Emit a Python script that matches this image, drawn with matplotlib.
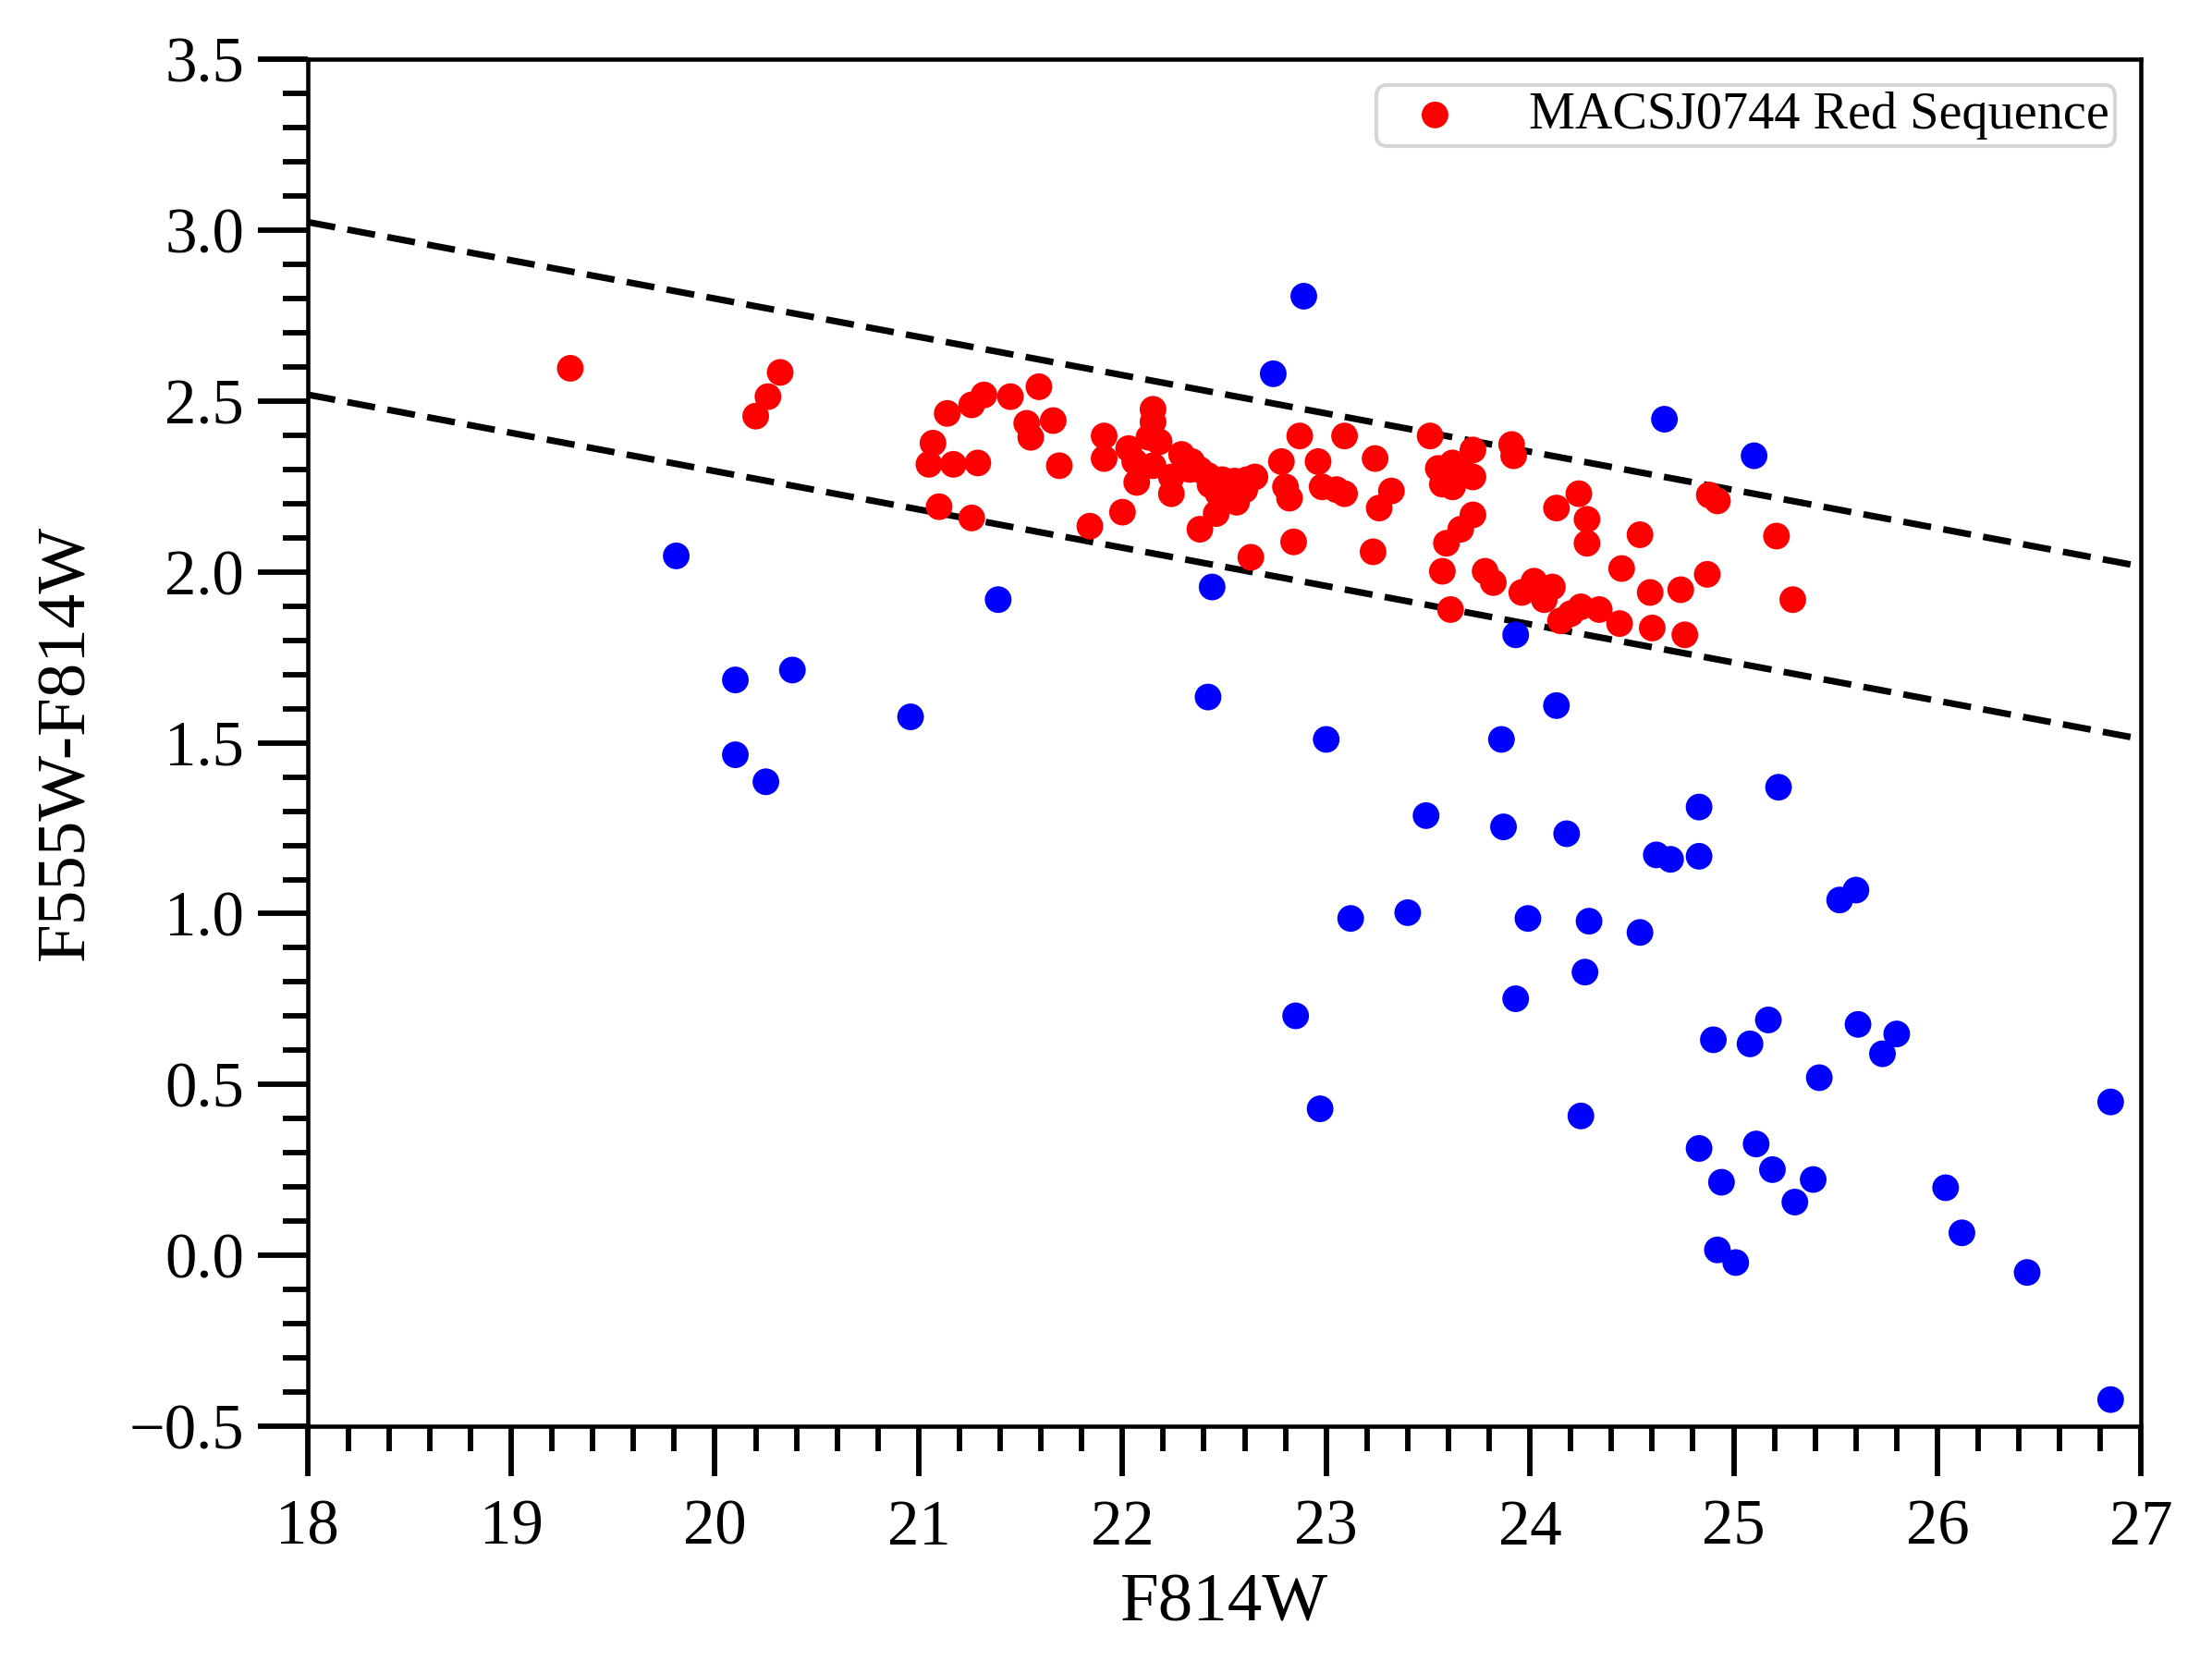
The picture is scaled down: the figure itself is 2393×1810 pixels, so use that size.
import numpy as np
import matplotlib
matplotlib.use("Agg")
import matplotlib.pyplot as plt
from matplotlib.ticker import MultipleLocator

plt.rcParams['font.family'] = ['Liberation Serif', 'DejaVu Serif']
plt.rcParams['mathtext.fontset'] = 'stix'

# red sequence members (F814W, F555W-F814W)
red_mag = [19.29, 20.20, 20.26, 20.32, 21.14, 21.26, 21.32, 21.45, 21.59, 21.53,
           21.55, 21.66, 21.69, 21.07, 21.05, 21.17, 21.29, 21.10, 21.26, 21.84,
           22.00, 21.91, 21.91, 22.03, 22.06, 22.15, 22.15, 22.13, 22.18, 22.15,
           22.07, 22.24, 22.24, 22.29, 22.34, 22.38, 22.42, 22.49, 22.55, 22.61,
           22.65, 22.47, 22.56, 22.46, 22.38, 22.63, 22.78, 22.87, 22.80, 22.82,
           22.84, 22.96, 22.98, 23.09, 23.09, 23.05, 23.24, 23.32, 23.26, 23.23,
           23.51, 23.55, 23.57, 23.62, 23.59, 23.57, 23.61, 23.66, 23.62, 23.72,
           23.72, 23.66, 23.72, 23.78, 23.82, 23.91, 23.92, 23.96, 24.02, 24.07,
           24.11, 24.15, 24.13, 24.20, 24.25, 24.34, 24.24, 24.28, 24.28, 24.45,
           24.44, 24.54, 24.59, 24.60, 24.74, 24.76, 24.87, 24.88, 24.92, 25.21,
           25.29, 22.52, 22.60, 22.33, 22.43]
red_col = [2.596, 2.456, 2.513, 2.584, 2.464, 2.489, 2.518, 2.513, 2.542, 2.435,
           2.394, 2.443, 2.311, 2.377, 2.315, 2.315, 2.319, 2.191, 2.158, 2.134,
           2.175, 2.398, 2.332, 2.361, 2.323, 2.476, 2.439, 2.394, 2.381, 2.311,
           2.262, 2.278, 2.229, 2.344, 2.323, 2.299, 2.282, 2.270, 2.266, 2.270,
           2.278, 2.229, 2.204, 2.171, 2.125, 2.043, 2.323, 2.398, 2.249, 2.216,
           2.088, 2.323, 2.249, 2.398, 2.229, 2.241, 2.332, 2.237, 2.187, 2.059,
           2.398, 2.303, 2.257, 2.319, 2.084, 2.002, 1.890, 2.311, 2.249, 2.278,
           2.357, 2.125, 2.167, 2.002, 1.969, 2.373, 2.340, 1.940, 1.973, 1.919,
           1.956, 1.857, 2.187, 1.878, 1.898, 1.890, 2.229, 2.154, 2.084, 2.010,
           1.849, 2.109, 1.940, 1.836, 1.948, 1.816, 1.993, 2.225, 2.208, 2.105,
           1.919, 2.250, 2.240, 2.300, 2.255]

# other galaxies
blue_mag = [22.89, 22.74, 24.66, 25.10, 19.81, 21.39, 22.44, 23.93, 20.10, 20.38,
            20.10, 20.25, 20.96, 22.42, 24.13, 23.00, 23.86, 23.49, 23.87, 24.18,
            25.22, 24.83, 24.62, 24.69, 24.83, 25.52, 25.60, 23.12, 23.40, 23.99,
            24.29, 24.54, 24.27, 22.85, 23.93, 24.90, 25.08, 25.17, 25.61, 25.73,
            25.80, 25.42, 22.97, 24.25, 26.85, 24.83, 25.11, 24.94, 25.19, 25.39,
            25.30, 26.04, 26.12, 24.92, 25.01, 26.44, 26.85]
blue_col = [2.807, 2.580, 2.447, 2.340, 2.047, 1.919, 1.956, 1.816, 1.684, 1.713,
            1.465, 1.386, 1.576, 1.634, 1.609, 1.510, 1.510, 1.287, 1.254, 1.234,
            1.370, 1.312, 1.172, 1.159, 1.168, 1.040, 1.069, 0.986, 1.003, 0.986,
            0.978, 0.945, 0.829, 0.701, 0.751, 0.631, 0.619, 0.689, 0.676, 0.590,
            0.648, 0.520, 0.429, 0.408, 0.449, 0.313, 0.326, 0.214, 0.251, 0.222,
            0.156, 0.198, 0.066, 0.016, -0.021, -0.050, -0.422]

# red sequence selection limits
slope = -0.112
upper_icpt = 5.04
lower_icpt = 4.535
line_x = np.array([18.0, 27.0])

fig = plt.figure(figsize=(2393 / 300, 1810 / 300), dpi=300)
ax = fig.add_axes([0.139, 0.1475, 0.829, 0.817])

ax.scatter(blue_mag, blue_col, s=48, color='blue', edgecolors='none', zorder=3)
ax.scatter(red_mag, red_col, s=48, color='red', edgecolors='none', zorder=4,
           label='MACSJ0744 Red Sequence')
ax.plot(line_x, slope * line_x + upper_icpt, 'k--', lw=1.7, dashes=(4.3, 1.9), zorder=2)
ax.plot(line_x, slope * line_x + lower_icpt, 'k--', lw=1.7, dashes=(4.3, 1.9), zorder=2)

ax.set_xlim(18, 27)
ax.set_ylim(-0.5, 3.5)
ax.xaxis.set_major_locator(MultipleLocator(1))
ax.xaxis.set_minor_locator(MultipleLocator(0.2))
ax.yaxis.set_major_locator(MultipleLocator(0.5))
ax.yaxis.set_minor_locator(MultipleLocator(0.1))
ax.tick_params(which='major', direction='out', length=13, width=1.4, labelsize=16.5,
               top=False, right=False)
ax.tick_params(which='minor', direction='out', length=6.5, width=1.4,
               top=False, right=False)
ax.tick_params(axis='x', which='major', pad=6)
for sp in ax.spines.values():
    sp.set_linewidth(1.1)

ax.set_xlabel('F814W', fontsize=18)
ax.set_ylabel('F555W-F814W', fontsize=18, labelpad=8)

ax.legend(loc='upper right', fontsize=13.5, frameon=True, borderpad=0.12,
          handletextpad=0.8, borderaxespad=0.5)

fig.savefig('out.png', dpi=300)
